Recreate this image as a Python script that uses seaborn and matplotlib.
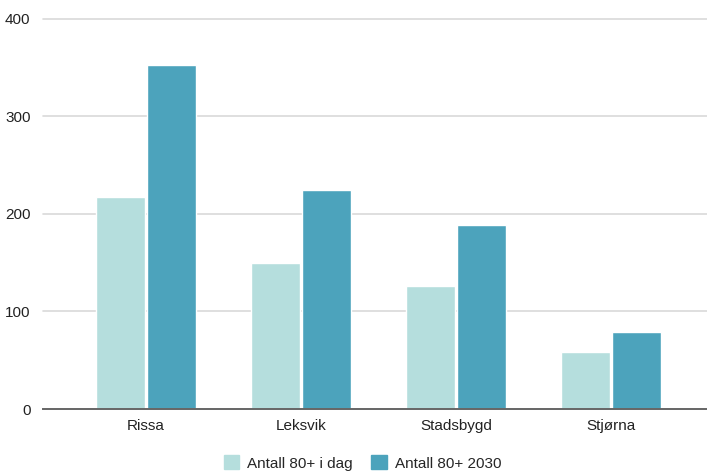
import matplotlib
matplotlib.use("Agg")
import matplotlib.pyplot as plt
import seaborn as sns
import pandas as pd

# data
kommuner = ["Rissa", "Leksvik", "Stadsbygd", "Stjørna"]
antall_i_dag = [217, 150, 126, 58]
antall_2030 = [353, 224, 189, 79]
serier = ["Antall 80+ i dag", "Antall 80+ 2030"]
farger = ["#b5dedd", "#4ca3bc"]

df = pd.DataFrame({
    "Kommune": kommuner * 2,
    "Antall": antall_i_dag + antall_2030,
    "Serie": [serier[0]] * len(kommuner) + [serier[1]] * len(kommuner),
})

sns.set_style("white")
plt.rcParams["font.family"] = ["Liberation Sans", "DejaVu Sans"]

fig = plt.figure(figsize=(7.07, 4.73), dpi=100)
ax = fig.add_axes([43 / 707, 1 - 409 / 473, 1 - 43 / 707, (409 - 18.7) / 473])

sns.barplot(data=df, x="Kommune", y="Antall", hue="Serie", hue_order=serier,
            palette=farger, width=0.655, gap=0.04, saturation=1, ax=ax,
            legend=False)

ax.set_ylim(0, 400)
ax.set_xlim(-0.665, 3.62)
ax.set_yticks([0, 100, 200, 300, 400])
ax.yaxis.grid(True, color="#d9d9d9", linewidth=1.2)
ax.set_axisbelow(True)
for s in ["top", "right", "left"]:
    ax.spines[s].set_visible(False)
ax.spines["bottom"].set_color("#666666")
ax.spines["bottom"].set_linewidth(1.4)
ax.tick_params(axis="both", length=0, labelsize=11, colors="#222222")
ax.tick_params(axis="y", pad=9)
ax.tick_params(axis="x", pad=7)
ax.set_xlabel("")
ax.set_ylabel("")
for gl in ax.get_ygridlines():
    gl.set_clip_on(False)

handles = [plt.Rectangle((0, 0), 1, 1, color=c) for c in farger]
fig.legend(handles, serier, loc="center", bbox_to_anchor=(362.5 / 707, 1 - 463 / 473),
           ncol=2, frameon=False, fontsize=11, handlelength=1.0,
           handleheight=1.0, columnspacing=1.2, handletextpad=0.55)

fig.savefig("out.png", dpi=100)
